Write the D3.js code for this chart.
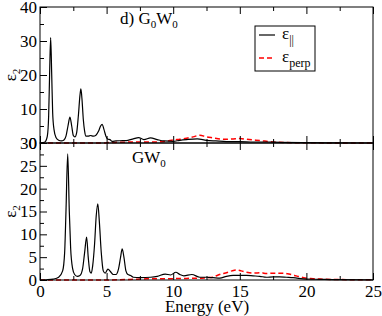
<!DOCTYPE html>
<html>
<head>
<meta charset="utf-8">
<script src="https://cdn.jsdelivr.net/npm/d3@7"></script>
</head>
<body style="margin:0;background:#fff">
<div id="plot-container"></div>
<script>
// ##################################
//  DATA
// ##################################

// top panel, G0W0 : [energy (eV), eps2]
const g0w0Par = [
  [0, 0], [0.2, 0.1], [0.4, 0.4], [0.55, 2], [0.65, 8], [0.72, 20], [0.8, 31],
  [0.88, 20], [0.95, 9], [1.05, 4], [1.2, 1.6], [1.4, 0.8], [1.6, 0.6], [1.8, 0.9],
  [1.95, 2], [2.1, 5], [2.25, 7.6], [2.38, 5], [2.5, 2.2], [2.62, 1.8], [2.75, 3],
  [2.88, 8], [3.0, 14], [3.07, 15.9], [3.15, 13], [3.25, 7], [3.35, 3.5], [3.45, 2],
  [3.6, 2], [3.8, 2.2], [4.0, 2], [4.2, 2.3], [4.4, 3.5], [4.55, 5], [4.67, 5.5],
  [4.8, 4], [4.95, 2], [5.1, 1.1], [5.25, 1], [5.4, 0.5], [5.7, 0.6], [6.2, 0.7],
  [6.6, 0.8], [7.0, 1.2], [7.4, 1.6], [7.8, 1.0], [8.3, 1.5], [8.8, 1.0], [9.3, 0.6],
  [10, 0.5], [10.5, 0.8], [11, 1.0], [11.8, 1.2], [12.5, 0.8], [13.2, 0.6], [14, 0.4],
  [15, 0.4], [16, 0.3], [17, 0.3], [18, 0.2], [20, 0.1], [22, 0.05], [25, 0]
]
const g0w0Perp = [
  [0, 0], [4.8, 0], [5.2, 0.15], [6, 0.2], [7, 0.3], [8, 0.3], [9, 0.35], [9.5, 0.5],
  [10, 0.9], [10.5, 1.1], [11, 1.4], [11.5, 1.8], [12, 2.3], [12.5, 1.8], [13, 1.5],
  [13.5, 1.2], [14, 1.1], [14.5, 1.2], [15, 1.3], [15.5, 1.1], [16, 0.9], [16.5, 0.7],
  [17, 0.5], [17.5, 0.3], [18.5, 0.15], [20, 0.05], [22, 0.03], [25, 0]
]

// bottom panel, GW0
const gw0Par = [
  [0, 0], [0.5, 0.05], [1.0, 0.2], [1.4, 0.6], [1.7, 2], [1.85, 6], [1.95, 15],
  [2.08, 27.6], [2.2, 15], [2.3, 7], [2.45, 2.5], [2.6, 1.2], [2.8, 0.8], [3.0, 1],
  [3.2, 2.5], [3.35, 6], [3.5, 9.4], [3.62, 5], [3.75, 1.8], [3.85, 1.5], [3.95, 3],
  [4.1, 8], [4.22, 14], [4.34, 16.7], [4.45, 13], [4.6, 6], [4.75, 2], [4.9, 1.5],
  [5.1, 2.4], [5.3, 1.8], [5.5, 1.2], [5.7, 1.2], [5.9, 2.5], [6.05, 5], [6.17, 6.8],
  [6.3, 5], [6.45, 2], [6.6, 1.2], [6.8, 1.0], [7.0, 0.6], [7.5, 0.5], [8.3, 0.6],
  [8.8, 0.8], [9.4, 1.3], [9.8, 1.1], [10.2, 1.7], [10.5, 1.2], [10.8, 0.9], [11.4, 1.2],
  [12, 0.6], [12.5, 0.6], [13, 0.5], [13.5, 0.4], [14, 0.8], [14.5, 1.0], [15, 1.0],
  [15.5, 1.0], [16, 0.9], [16.5, 0.8], [17, 0.6], [17.5, 0.7], [18, 0.7], [18.5, 0.6],
  [19, 0.5], [20, 0.2], [21, 0.15], [22, 0.1], [25, 0.03]
]
const gw0Perp = [
  [0, 0], [5, 0], [6, 0.05], [7, 0.15], [8, 0.25], [9, 0.3], [10, 0.3], [11, 0.35],
  [12, 0.4], [12.5, 0.5], [13, 0.6], [13.3, 1.0], [13.7, 1.4], [14, 1.6], [14.4, 2.0],
  [14.75, 2.2], [15.1, 2.0], [15.5, 1.7], [16, 1.5], [16.6, 1.6], [17, 1.4], [17.5, 1.5],
  [18.3, 1.5], [18.7, 1.3], [19.1, 1.0], [19.5, 0.7], [19.8, 0.5], [20.5, 0.3], [21, 0.2],
  [22, 0.1], [23, 0.08], [25, 0.05]
]

const xTicks = [0, 5, 10, 15, 20, 25]
const xMinor = [2.5, 7.5, 12.5, 17.5, 22.5]
const topTicks = [0, 10, 20, 30, 40]
const topMinor = [5, 15, 25, 35]
const botTicks = [0, 5, 10, 15, 20, 25, 30]
const botMinor = [2.5, 7.5, 12.5, 17.5, 22.5, 27.5]

// ##################################
//  CONSTANTS
// ##################################
const W = 382, H = 316
const left = 40, right = 373
const topPanel = { y0: 7, y1: 143, max: 40 }
const botPanel = { y0: 143, y1: 280, max: 30 }
const major = 7, minor = 4
const fs = 17
const red = "#ff0000"
const font = "'Liberation Serif'"

const svg = d3.select("#plot-container").append("svg")
  .attr("width", W).attr("height", H)

const x = d3.scaleLinear().domain([0, 25]).range([left, right])

const line = (y) => d3.line()
  .x((d) => x(d[0]))
  .y((d) => y(d[1]))
  .curve(d3.curveMonotoneX)

const styleAxis = (g) => {
  g.select(".domain").remove()
  g.selectAll(".tick line").attr("stroke", "#000")
  g.selectAll(".tick text").attr("fill", "#000").attr("font-size", fs)
}

const drawPanel = (p, par, perp, ticks, minors, labelBottom) => {
  const y = d3.scaleLinear().domain([0, p.max]).range([p.y1, p.y0])
  const g = svg.append("g")

  // curves
  g.append("path").datum(perp)
    .attr("fill", "none").attr("stroke", red).attr("stroke-width", 1.5)
    .attr("stroke-dasharray", "5,3").attr("d", line(y))
  g.append("path").datum(par)
    .attr("fill", "none").attr("stroke", "#000").attr("stroke-width", 1.2)
    .attr("d", line(y))

  // left axis (ticks inside)
  g.append("g").attr("transform", `translate(${left},0)`)
    .call(d3.axisLeft(y).tickValues(ticks).tickSize(-major).tickPadding(3))
    .call(styleAxis)
  g.append("g").attr("transform", `translate(${left},0)`)
    .call(d3.axisLeft(y).tickValues(minors).tickSize(-minor).tickFormat(""))
    .call(styleAxis)

  // top edge ticks
  g.append("g").attr("transform", `translate(0,${p.y0})`)
    .call(d3.axisTop(x).tickValues(xTicks).tickSize(-major).tickFormat(""))
    .call(styleAxis)
  g.append("g").attr("transform", `translate(0,${p.y0})`)
    .call(d3.axisTop(x).tickValues(xMinor).tickSize(-minor).tickFormat(""))
    .call(styleAxis)

  // bottom edge ticks
  g.append("g").attr("transform", `translate(0,${p.y1})`)
    .call(d3.axisBottom(x).tickValues(xTicks).tickSize(-major).tickPadding(5)
      .tickFormat(labelBottom ? d3.format("d") : ""))
    .call(styleAxis)
  g.append("g").attr("transform", `translate(0,${p.y1})`)
    .call(d3.axisBottom(x).tickValues(xMinor).tickSize(-minor).tickFormat(""))
    .call(styleAxis)

  // frame
  g.append("rect")
    .attr("x", left).attr("y", p.y0)
    .attr("width", right - left).attr("height", p.y1 - p.y0)
    .attr("fill", "none").attr("stroke", "#000").attr("stroke-width", 1)

  // y label
  const yl = g.append("text")
    .attr("transform", `translate(16,${(p.y0 + p.y1) / 2}) rotate(-90)`)
    .attr("text-anchor", "middle").attr("font-size", fs)
  yl.append("tspan").text("ε")
  yl.append("tspan").attr("font-size", 11).attr("dy", 4).text("2")
  return y
}

drawPanel(topPanel, g0w0Par, g0w0Perp, topTicks, topMinor, false)
drawPanel(botPanel, gw0Par, gw0Perp, botTicks, botMinor, true)

// panel titles
const t1 = svg.append("text").attr("x", 120).attr("y", 24).attr("font-size", fs)
t1.append("tspan").text("d) G")
t1.append("tspan").attr("font-size", 11).attr("dy", 4).text("0")
t1.append("tspan").attr("dy", -4).text("W")
t1.append("tspan").attr("font-size", 11).attr("dy", 4).text("0")

const t2 = svg.append("text").attr("x", 132).attr("y", 163).attr("font-size", fs)
t2.append("tspan").text("GW")
t2.append("tspan").attr("font-size", 11).attr("dy", 4).text("0")

// x label
svg.append("text").attr("x", 207).attr("y", 312)
  .attr("text-anchor", "middle").attr("font-size", fs).text("Energy (eV)")

// legend
const lg = svg.append("g")
lg.append("rect").attr("x", 255).attr("y", 26).attr("width", 60).attr("height", 45)
  .attr("fill", "#fff").attr("stroke", "#000").attr("stroke-width", 1)
lg.append("line").attr("x1", 259).attr("x2", 275).attr("y1", 35).attr("y2", 35)
  .attr("stroke", "#000").attr("stroke-width", 1.2)
lg.append("line").attr("x1", 259).attr("x2", 275).attr("y1", 58).attr("y2", 58)
  .attr("stroke", red).attr("stroke-width", 1.5).attr("stroke-dasharray", "5,3")
const l1 = lg.append("text").attr("x", 282).attr("y", 39).attr("font-size", fs)
l1.append("tspan").text("ε")
l1.append("tspan").attr("font-size", 12).attr("dy", 5).text("||")
const l2 = lg.append("text").attr("x", 282).attr("y", 62).attr("font-size", fs)
l2.append("tspan").text("ε")
l2.append("tspan").attr("font-size", 12).attr("dy", 5).text("perp")

// serif everywhere (axis groups carry their own sans-serif attribute)
svg.selectAll("text").style("font-family", font)
</script>
</body>
</html>
